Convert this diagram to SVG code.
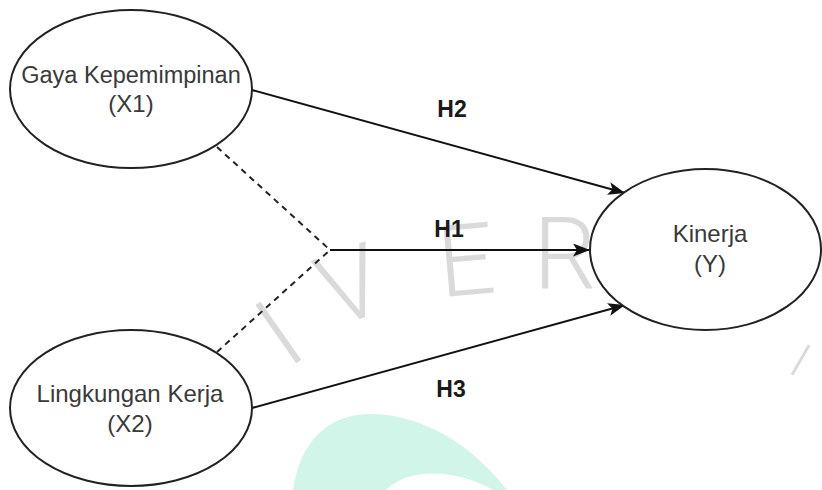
<svg xmlns="http://www.w3.org/2000/svg" width="822" height="490" viewBox="0 0 822 490">
  <style>
    .node ellipse { fill: #ffffff; stroke: #222222; stroke-width: 2; }
    .node text { font-family: "Liberation Sans", Arial, sans-serif; font-size: 24px; fill: #3a3a3a; text-anchor: middle; }
    .edge { stroke: #111111; stroke-width: 2; fill: none; }
    .dash { stroke: #222222; stroke-width: 2; fill: none; stroke-dasharray: 6 5; }
    .lbl { font-family: "Liberation Sans", Arial, sans-serif; font-size: 23px; font-weight: bold; fill: #1a1a1a; text-anchor: middle; }
    .wm { font-family: Roboto, "Liberation Sans", sans-serif; font-weight: 300; font-size: 100px; fill: #dadada; text-anchor: middle; }
  </style>
  <defs>
    <marker id="arrow" markerUnits="userSpaceOnUse" markerWidth="17" markerHeight="13" refX="17" refY="6.5" orient="auto">
      <path d="M0,0 L17,6.5 L0,13 L4,6.5 Z" fill="#111111"/>
    </marker>
  </defs>
  <rect width="822" height="490" fill="#ffffff"/>

  <g id="watermark">
    <path d="M293,490 C300,440 330,414 370,414 C420,414 470,442 507,490 L493,490 C472,478 448,472 422,474 C406,476 394,482 386,490 Z" fill="#d2f5ea"/>
    <text class="wm" transform="translate(278,332) rotate(-35)" x="0" y="36">I</text>
    <text class="wm" transform="translate(350,284) rotate(-20)" x="0" y="36">V</text>
    <text class="wm" transform="translate(466,259) rotate(-5)" x="0" y="36">E</text>
    <text class="wm" transform="translate(565,253)" x="0" y="36">R</text>
    <text class="wm" transform="translate(801,359) rotate(30)" x="0" y="18" style="font-size:48px">I</text>
  </g>

  <g id="connectors">
    <line class="dash" x1="217" y1="147" x2="330" y2="250"/>
    <line class="dash" x1="217" y1="352" x2="330" y2="250"/>
    <line class="edge" x1="252" y1="90" x2="625" y2="193" marker-end="url(#arrow)"/>
    <line class="edge" x1="330" y1="250" x2="590" y2="250" marker-end="url(#arrow)"/>
    <line class="edge" x1="252" y1="408" x2="625" y2="305" marker-end="url(#arrow)"/>
    <text class="lbl" x="452" y="117">H2</text>
    <text class="lbl" x="449" y="237">H1</text>
    <text class="lbl" x="451" y="397">H3</text>
  </g>

  <g id="node-x1" class="node">
    <ellipse cx="131" cy="89" rx="121" ry="79"/>
    <text x="131" y="83" style="font-size:23.5px">Gaya Kepemimpinan</text>
    <text x="131" y="112">(X1)</text>
  </g>

  <g id="node-x2" class="node">
    <ellipse cx="131" cy="408" rx="121" ry="78"/>
    <text x="130" y="402">Lingkungan Kerja</text>
    <text x="130" y="432">(X2)</text>
  </g>

  <g id="node-y" class="node">
    <ellipse cx="705.5" cy="249.5" rx="115.5" ry="80.5"/>
    <text x="710" y="242">Kinerja</text>
    <text x="710" y="272">(Y)</text>
  </g>
</svg>
